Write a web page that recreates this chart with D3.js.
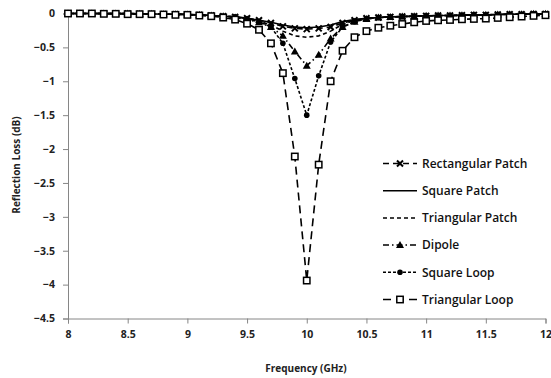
<!DOCTYPE html>
<html><head><meta charset="utf-8">
<script src="https://cdn.jsdelivr.net/npm/d3@7/dist/d3.min.js"></script>
<style>body{margin:0;background:#fff;} svg{display:block;}</style>
</head><body><div id="chart"></div>
<script>
const freq = [8.0,8.1,8.2,8.3,8.4,8.5,8.6,8.7,8.8,8.9,9.0,9.1,9.2,9.3,9.4,9.5,9.6,9.7,9.8,9.9,10.0,10.1,10.2,10.3,10.4,10.5,10.6,10.7,10.8,10.9,11.0,11.1,11.2,11.3,11.4,11.5,11.6,11.7,11.8,11.9,12.0];
const rectangularPatch = [0,0,0,0,0,0,-0.005,-0.005,-0.01,-0.01,-0.015,-0.02,-0.03,-0.04,-0.05,-0.07,-0.1,-0.14,-0.19,-0.22,-0.23,-0.22,-0.2,-0.14,-0.1,-0.07,-0.06,-0.05,-0.045,-0.04,-0.035,-0.03,-0.03,-0.025,-0.02,-0.02,-0.015,-0.01,-0.01,-0.005,-0.005];
const squarePatch = [0,0,0,0,0,0,-0.005,-0.005,-0.01,-0.01,-0.015,-0.02,-0.03,-0.04,-0.05,-0.07,-0.1,-0.13,-0.17,-0.2,-0.21,-0.2,-0.17,-0.12,-0.09,-0.07,-0.06,-0.05,-0.045,-0.04,-0.035,-0.03,-0.03,-0.025,-0.02,-0.02,-0.015,-0.01,-0.01,-0.005,-0.005];
const triangularPatch = [0,0,0,0,0,0,-0.005,-0.005,-0.01,-0.01,-0.015,-0.02,-0.03,-0.04,-0.05,-0.08,-0.11,-0.17,-0.26,-0.33,-0.35,-0.33,-0.26,-0.16,-0.1,-0.07,-0.06,-0.05,-0.045,-0.04,-0.035,-0.03,-0.03,-0.025,-0.02,-0.02,-0.015,-0.01,-0.01,-0.005,-0.005];
const dipole = [0,0,0,0,0,0,-0.005,-0.005,-0.01,-0.01,-0.015,-0.02,-0.03,-0.04,-0.06,-0.09,-0.13,-0.2,-0.33,-0.56,-0.77,-0.61,-0.37,-0.2,-0.12,-0.08,-0.06,-0.05,-0.045,-0.04,-0.035,-0.03,-0.03,-0.025,-0.02,-0.02,-0.015,-0.01,-0.01,-0.005,-0.005];
const squareLoop = [0,0,0,0,0,0,-0.005,-0.005,-0.01,-0.01,-0.015,-0.02,-0.03,-0.04,-0.05,-0.08,-0.12,-0.2,-0.44,-0.96,-1.5,-0.92,-0.42,-0.2,-0.12,-0.08,-0.06,-0.05,-0.045,-0.04,-0.035,-0.03,-0.03,-0.025,-0.02,-0.02,-0.015,-0.01,-0.01,-0.005,-0.005];
const triangularLoop = [0,0,0,-0.005,-0.005,-0.01,-0.01,-0.01,-0.015,-0.02,-0.02,-0.03,-0.04,-0.06,-0.09,-0.15,-0.24,-0.44,-0.88,-2.11,-3.94,-2.23,-1.0,-0.55,-0.35,-0.26,-0.21,-0.18,-0.155,-0.13,-0.11,-0.1,-0.095,-0.085,-0.08,-0.075,-0.065,-0.055,-0.045,-0.035,-0.025];
const seriesNames = ["Rectangular Patch","Square Patch","Triangular Patch","Dipole","Square Loop","Triangular Loop"];
const xTicks = [8,8.5,9,9.5,10,10.5,11,11.5,12];
const yTicks = [0,-0.5,-1,-1.5,-2,-2.5,-3,-3.5,-4,-4.5];

const seriesData = [rectangularPatch, squarePatch, triangularPatch, dipole, squareLoop, triangularLoop];
const styles = [
  {dash:"6,4", marker:"x"},
  {dash:null, marker:null},
  {dash:"4,3", marker:null},
  {dash:"6,3,1.5,3", marker:"tri"},
  {dash:"3,2", marker:"dot"},
  {dash:"8,5", marker:"sq"}
];

const W = 551, H = 378;
const svg = d3.select("#chart").append("svg").attr("width", W).attr("height", H);
const x = d3.scaleLinear().domain([8,12]).range([68,545.5]);
const y = d3.scaleLinear().domain([-4.5,0]).range([318.5,13.5]);
const font = "'Open Sans', sans-serif";
const axisColor = "#868686";

const xAxis = svg.append("g").attr("transform","translate(0,318.5)")
  .call(d3.axisBottom(x).tickValues(xTicks).tickSize(5).tickPadding(5).tickFormat(d=>d3.format("")(d)));
const yAxis = svg.append("g").attr("transform","translate(68,0)")
  .call(d3.axisLeft(y).tickValues(yTicks).tickSize(5).tickPadding(8).tickFormat(d=>d3.format("")(d)));
[xAxis,yAxis].forEach(g=>{
  g.selectAll("path,line").attr("stroke",axisColor).attr("stroke-width",1);
  g.selectAll("text").attr("font-family",font).attr("font-size","10.5px").attr("font-weight","bold").attr("fill","#222");
});
xAxis.selectAll("text").attr("dy","0.9em");

svg.append("text").attr("x",306).attr("y",372).attr("text-anchor","middle")
  .attr("font-family",font).attr("font-size","10px").attr("font-weight","bold").attr("fill","#222")
  .text("Frequency (GHz)");
svg.append("text").attr("transform","translate(20,165) rotate(-90)").attr("text-anchor","middle")
  .attr("font-family",font).attr("font-size","10px").attr("font-weight","bold").attr("fill","#222")
  .text("Reflection Loss (dB)");

function drawMarker(g, type, cx, cy){
  if(type==="x"){
    g.append("path").attr("d",`M${cx-3},${cy-3}L${cx+3},${cy+3}M${cx+3},${cy-3}L${cx-3},${cy+3}`)
      .attr("stroke","#000").attr("stroke-width",2).attr("fill","none");
  } else if(type==="tri"){
    g.append("path").attr("d",`M${cx},${cy-4}L${cx+4},${cy+3}L${cx-4},${cy+3}Z`).attr("fill","#000");
  } else if(type==="dot"){
    g.append("circle").attr("cx",cx).attr("cy",cy).attr("r",2.8).attr("fill","#000");
  } else if(type==="sq"){
    g.append("rect").attr("x",cx-3.2).attr("y",cy-3.2).attr("width",6.4).attr("height",6.4)
      .attr("fill","#fff").attr("stroke","#000").attr("stroke-width",1.5);
  }
}

const line = d3.line().x((d,i)=>x(freq[i])).y(d=>y(d));
seriesData.forEach((vals,si)=>{
  const st = styles[si];
  const g = svg.append("g");
  g.append("path").attr("d",line(vals)).attr("fill","none").attr("stroke","#000")
    .attr("stroke-width",1.6).attr("stroke-dasharray",st.dash);
  if(st.marker) vals.forEach((v,i)=>drawMarker(g, st.marker, x(freq[i]), y(v)));
});

const legY0 = 163.5, legStep = 27.2;
seriesNames.forEach((name,si)=>{
  const st = styles[si];
  const ly = legY0 + si*legStep;
  const g = svg.append("g");
  g.append("line").attr("x1",383).attr("x2",417).attr("y1",ly).attr("y2",ly)
    .attr("stroke","#000").attr("stroke-width",1.5).attr("stroke-dasharray",st.dash);
  if(st.marker) drawMarker(g, st.marker, 400, ly);
  g.append("text").attr("x",422).attr("y",ly).attr("dy","0.35em")
    .attr("font-family",font).attr("font-size","12px").attr("font-weight","600").attr("fill","#111")
    .text(name);
});
</script></body></html>
